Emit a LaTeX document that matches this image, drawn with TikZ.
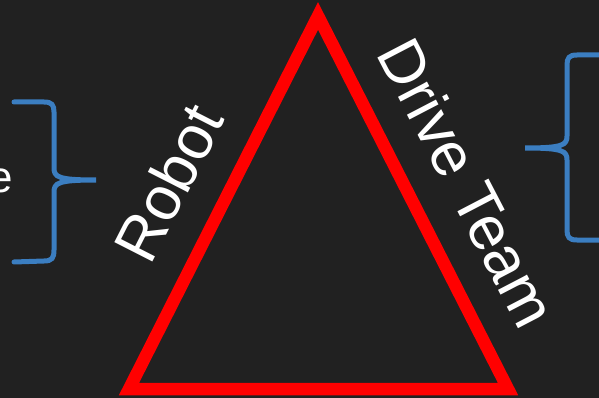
\documentclass[tikz,border=0pt]{standalone}
\usepackage{fontspec}
\setmainfont{Liberation Sans}
\usetikzlibrary{positioning}

\definecolor{slide}{HTML}{212121}
\definecolor{bracecol}{HTML}{3B7EC1}

\begin{document}
\begin{tikzpicture}[x=1pt, y=-1pt]
    % Define styles
    \tikzstyle{side} = [draw=red, line width=12.5pt, line join=miter]
    \tikzstyle{bracket} = [draw=bracecol, line width=5pt, line cap=round]
    \tikzstyle{label} = [text=white, inner sep=0pt, font=\fontsize{62}{74}\selectfont]

    % Background
    \fill[slide] (0,0) rectangle (599,398);
    \useasboundingbox (0,0) rectangle (599,398);

    % Triangle corners
    \coordinate (top) at (318,16);
    \coordinate (left) at (129,389);
    \coordinate (right) at (508,389);
    \draw [side] (top) -- (left) -- (right) -- cycle;

    % Nodes
    \node [label, rotate=63, anchor=base] (robot) at (188,193) {Robot};
    \node [label, rotate=-62.5, anchor=base] (team) at (448,193) {Drive Team};
    \node [label, anchor=base east, font=\fontsize{44}{52}\selectfont] (cut) at (13,193) {e};

    % Braces
    \coordinate (ltip) at (96,180);
    \coordinate (rtip) at (525,148);
    \draw [bracket] (14,102) -- (44,102) .. controls (52,102) and (54,105) .. (54,112)
        -- (54,168) .. controls (54,177) and (58,180) .. (ltip)
        .. controls (58,180) and (54,183) .. (54,192)
        -- (54,250) .. controls (54,258) and (52,261) .. (44,261) -- (14,262);
    \draw [bracket] (605,55) -- (577,55) .. controls (569,55) and (567,58) .. (567,65)
        -- (567,136) .. controls (567,145) and (563,148) .. (rtip)
        .. controls (563,148) and (567,151) .. (567,160)
        -- (567,230) .. controls (567,237) and (569,240) .. (577,240) -- (605,240);
\end{tikzpicture}
\end{document}
